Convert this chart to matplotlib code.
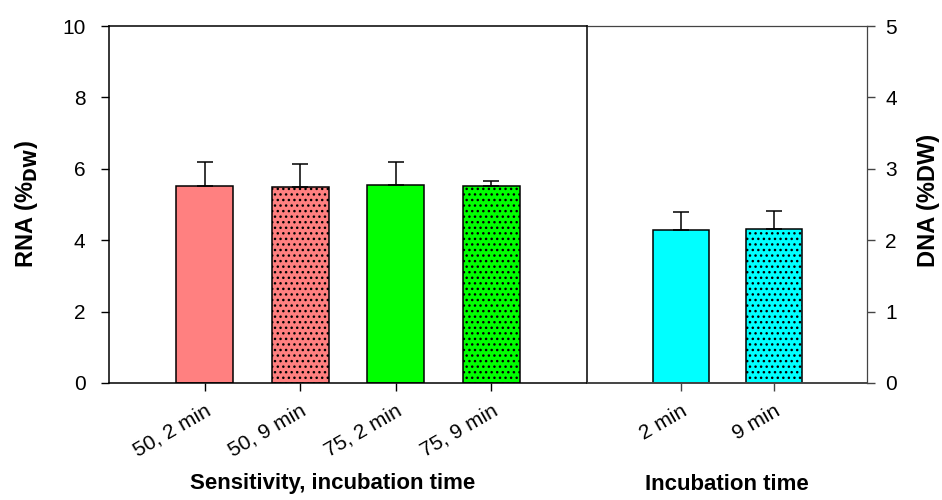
import matplotlib
matplotlib.use("Agg")
import matplotlib.pyplot as plt
import numpy as np

plt.rcParams["font.family"] = ["Liberation Sans", "DejaVu Sans"]
plt.rcParams["hatch.linewidth"] = 1.0

# RNA panel
rna_labels = ["50, 2 min", "50, 9 min", "75, 2 min", "75, 9 min"]
rna_values = [5.53, 5.48, 5.54, 5.53]
rna_errors = [0.65, 0.65, 0.66, 0.14]
rna_colors = ["#FF8080", "#FF8080", "#00FF00", "#00FF00"]
rna_hatches = ["", "...", "", "..."]

# DNA panel
dna_labels = ["2 min", "9 min"]
dna_values = [2.14, 2.15]
dna_errors = [0.25, 0.26]
dna_colors = ["#00FFFF", "#00FFFF"]
dna_hatches = ["", "..."]

tick_size = 15
label_size = 16

fig = plt.figure(figsize=(9.42, 5), dpi=100)
ax1 = fig.add_axes([109 / 942, 117 / 500, 478 / 942, 357 / 500])
ax2 = fig.add_axes([588 / 942, 117 / 500, 279 / 942, 357 / 500])


def draw_bars(ax, values, errors, colors, hatches):
    x = np.arange(len(values))
    for i in range(len(values)):
        ax.bar(x[i], values[i], width=0.6, color=colors[i], edgecolor="black",
               linewidth=1.1, hatch=hatches[i], zorder=2)
    ax.errorbar(x, values, yerr=[np.zeros(len(errors)), errors], fmt="none",
                ecolor="black", elinewidth=1.1, capsize=6, capthick=1.1, zorder=3)
    return x


x1 = draw_bars(ax1, rna_values, rna_errors, rna_colors, rna_hatches)
ax1.set_xlim(-1, len(rna_values))
ax1.set_ylim(0, 10)
ax1.set_yticks([0, 2, 4, 6, 8, 10])
ax1.set_xticks(x1)
ax1.set_xticklabels(rna_labels, rotation=30, ha="right", rotation_mode="anchor")
ax1.tick_params(axis="both", direction="out", length=6, width=1, labelsize=tick_size)
ax1.tick_params(axis="x", pad=7)
ax1.tick_params(axis="y", pad=11)
for s in ax1.spines.values():
    s.set_linewidth(1.1)
    s.set_color("black")

x2 = draw_bars(ax2, dna_values, dna_errors, dna_colors, dna_hatches)
ax2.set_xlim(-1, len(dna_values))
ax2.set_ylim(0, 5)
ax2.set_yticks([0, 1, 2, 3, 4, 5])
ax2.yaxis.tick_right()
ax2.set_xticks(x2)
ax2.set_xticklabels(dna_labels, rotation=30, ha="right", rotation_mode="anchor")
ax2.tick_params(axis="both", direction="out", length=6, width=1, labelsize=tick_size,
                color="#444444")
ax2.tick_params(axis="x", pad=7)
ax2.tick_params(axis="y", pad=7)
for name, s in ax2.spines.items():
    s.set_color("#444444")
    s.set_linewidth(0.9)
ax2.spines["left"].set_visible(False)
ax2.spines["bottom"].set_linewidth(1.4)

# axis titles
fig.text(26 / 942, 1 - 204 / 500, "RNA (%$_{\\mathbf{DW}}$)", fontsize=17,
         fontweight="bold", rotation=90, ha="center", va="center")
fig.text(929 / 942, 1 - 200 / 500, "DNA (%DW)", fontsize=17,
         fontweight="bold", rotation=90, ha="center", va="center")
fig.text(333 / 942, 1 - 484 / 500, "Sensitivity, incubation time", fontsize=label_size,
         fontweight="bold", ha="center", va="center")
fig.text(727 / 942, 1 - 485 / 500, "Incubation time", fontsize=label_size,
         fontweight="bold", ha="center", va="center")

fig.savefig("out.png", dpi=100)
